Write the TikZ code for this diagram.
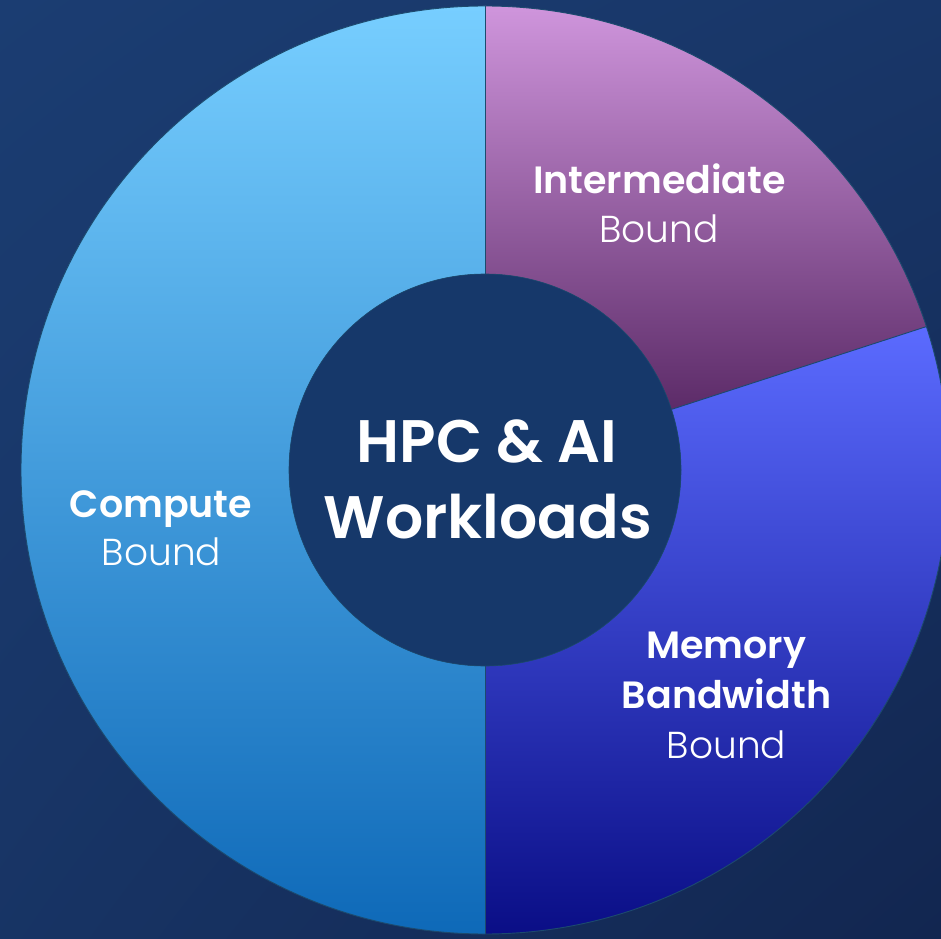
\documentclass[tikz,border=0pt]{standalone}
\usepackage{fontspec}
\setmainfont{Poppins}
\newfontfamily\labelbold{Poppins SemiBold}
\newfontfamily\labellight{Poppins Light}
\usetikzlibrary{calc,shadings}

\definecolor{bgA}{HTML}{1B3D72}
\definecolor{bgB}{HTML}{122650}
\definecolor{hub}{HTML}{16386A}
\definecolor{seam}{HTML}{1C4A6E}
\definecolor{cmpTop}{HTML}{77CEFF}
\definecolor{cmpBot}{HTML}{0E69B8}
\definecolor{midTop}{HTML}{CF95DC}
\definecolor{midBot}{HTML}{5C2B68}
\definecolor{memTop}{HTML}{5B6BFF}
\definecolor{memMid}{HTML}{4654E2}
\definecolor{memBot}{HTML}{0A0E86}

\tikzset{
  seg/.style={draw=seam, line width=0.9pt},
  boldlbl/.style={anchor=base, inner sep=0pt, text=white, font=\labelbold\fontsize{38}{46}\selectfont},
  lightlbl/.style={anchor=base, inner sep=0pt, text=white, font=\labellight\fontsize{37.5}{44}\selectfont},
  hublbl/.style={anchor=base, inner sep=0pt, text=white, font=\labelbold\fontsize{60}{72}\selectfont},
}

\begin{document}
\begin{tikzpicture}[x=1pt, y=1pt]
  % canvas
  \useasboundingbox (0,0) rectangle (941,938);
  \shade[upper left=bgA, upper right=bgA!70!bgB, lower left=bgA!60!bgB, lower right=bgB]
    (0,0) rectangle (941,938);
  \begin{scope}
    \clip (0,0) rectangle (941,938);
    \coordinate (c) at (485,468);
    \def\Ro{464}
    \def\Ri{196}
    \def\cut{18}
    % compute-bound half
    \shade[top color=cmpTop, bottom color=cmpBot]
      ($(c)+(90:\Ro)$) arc[start angle=90, end angle=270, radius=\Ro]
      -- ($(c)+(270:\Ri)$) arc[start angle=270, end angle=90, radius=\Ri] -- cycle;
    % intermediate sector
    \shade[top color=midTop, bottom color=midBot]
      ($(c)+(90:\Ro)$) arc[start angle=90, end angle=\cut, radius=\Ro]
      -- ($(c)+(\cut:\Ri)$) arc[start angle=\cut, end angle=90, radius=\Ri] -- cycle;
    % memory-bandwidth sector
    \shade[top color=memTop, middle color=memMid, bottom color=memBot]
      ($(c)+(\cut:\Ro)$) arc[start angle=\cut, end angle=-90, radius=\Ro]
      -- ($(c)+(-90:\Ri)$) arc[start angle=-90, end angle=\cut, radius=\Ri] -- cycle;
    % seams and rims
    \draw[seg] (c) circle[radius=\Ro];
    \draw[seg] ($(c)+(90:\Ri)$) -- ($(c)+(90:\Ro)$);
    \draw[seg] ($(c)+(-90:\Ri)$) -- ($(c)+(-90:\Ro)$);
    \draw[seg] ($(c)+(\cut:\Ri)$) -- ($(c)+(\cut:\Ro)$);
    % hub
    \fill[hub] (c) circle[radius=\Ri];
    \draw[seg, line width=0.6pt] (c) circle[radius=\Ri];
  \end{scope}

  % labels
  \node[hublbl] (hub1) at (487,476) {HPC \& AI};
  \node[hublbl] (hub2) at (488,400) {Workloads};
  \node[boldlbl] (mid1) at (659.5,744) {Intermediate};
  \node[lightlbl] (mid2) at (659,695) {Bound};
  \node[boldlbl] (mem1) at (726,280) {Memory};
  \node[boldlbl] (mem2) at (726.5,230) {Bandwidth};
  \node[lightlbl] (mem3) at (726.5,180) {Bound};
  \node[boldlbl] (cmp1) at (161,421) {Compute};
  \node[lightlbl] (cmp2) at (161.5,373) {Bound};
\end{tikzpicture}
\end{document}
